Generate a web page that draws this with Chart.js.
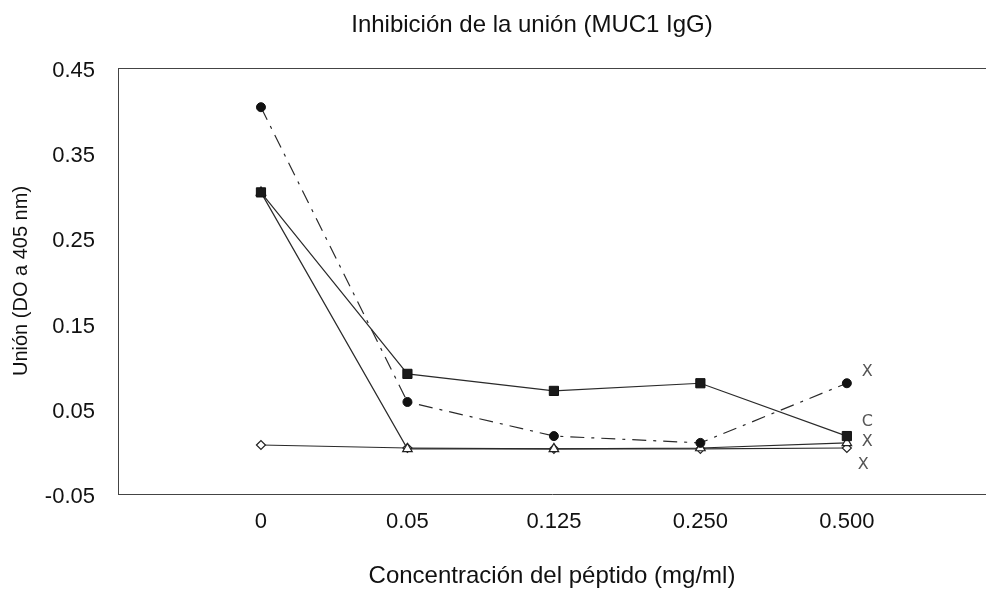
<!DOCTYPE html>
<html>
<head>
<meta charset="utf-8">
<script src="https://cdn.jsdelivr.net/npm/chart.js@4.4.1/dist/chart.umd.min.js"></script>
<style>
  html, body { margin: 0; padding: 0; background: #fff; }
  #wrap { width: 986px; height: 592px; position: relative; }
</style>
</head>
<body>
<div id="wrap"><canvas id="c" width="986" height="592"></canvas></div>
<script>
// Peptide concentrations (mg/ml) shown on the x axis
const concentrations = ['0', '0.05', '0.125', '0.250', '0.500'];
// Y axis tick values (OD at 405 nm)
const yTickValues = [-0.05, 0.05, 0.15, 0.25, 0.35, 0.45];

// Binding (OD 405 nm) for each series
const seriesSquare   = [0.304, 0.091, 0.071, 0.080, 0.018];
const seriesCircle   = [0.404, 0.058, 0.018, 0.010, 0.080];
const seriesTriangle = [0.304, 0.003, 0.003, 0.004, 0.010];
const seriesDiamond  = [0.0075, 0.004, 0.003, 0.003, 0.004];

// Letters printed after the last point of each series
const endLabels = ['C', 'X', 'X', 'X'];

const ink = '#2a2a2a';
const FONT = '"Liberation Sans", Arial, sans-serif';
const toPoints = arr => arr.map((v, i) => ({ x: i, y: v }));

// Title, top border of the frame and the series end letters
const decorations = {
  id: 'decorations',
  afterDraw(chart) {
    const { ctx, chartArea } = chart;
    ctx.save();
    ctx.fillStyle = '#111';
    ctx.font = '24px ' + FONT;
    ctx.textAlign = 'center';
    ctx.textBaseline = 'middle';
    ctx.fillText('Inhibición de la unión (MUC1 IgG)', 532, 25);
    ctx.strokeStyle = '#444';
    ctx.lineWidth = 1;
    ctx.beginPath();
    ctx.moveTo(chartArea.left, chartArea.top + 0.5);
    ctx.lineTo(chartArea.right, chartArea.top + 0.5);
    ctx.stroke();
    const offsets = [[15, -14], [15, -11], [15, -1], [11, 17]];
    ctx.font = '16px "DejaVu Sans", sans-serif';
    ctx.fillStyle = '#555';
    ctx.textAlign = 'left';
    chart.data.datasets.forEach((ds, i) => {
      const meta = chart.getDatasetMeta(i);
      const last = meta.data[meta.data.length - 1];
      ctx.fillText(endLabels[i], last.x + offsets[i][0], last.y + offsets[i][1]);
    });
    ctx.restore();
  }
};

new Chart(document.getElementById('c'), {
  type: 'line',
  data: {
    datasets: [
      {
        label: 'C', data: toPoints(seriesSquare),
        borderColor: ink, borderWidth: 1.2,
        pointStyle: 'rect', pointRadius: 6.5, pointBorderColor: '#111', pointBorderWidth: 1,
        pointBackgroundColor: '#1a1a1a', tension: 0
      },
      {
        label: 'X1', data: toPoints(seriesCircle),
        borderColor: ink, borderWidth: 1.2, borderDash: [14, 7, 3, 7],
        pointStyle: 'circle', pointRadius: 4.5, pointBorderColor: '#111', pointBorderWidth: 1,
        pointBackgroundColor: '#111', tension: 0
      },
      {
        label: 'X2', data: toPoints(seriesTriangle),
        borderColor: ink, borderWidth: 1.2,
        pointStyle: 'triangle', pointRadius: 5.5, pointBorderColor: '#222', pointBorderWidth: 1.2,
        pointBackgroundColor: '#fff', tension: 0
      },
      {
        label: 'X3', data: toPoints(seriesDiamond),
        borderColor: ink, borderWidth: 1.2,
        pointStyle: 'rectRot', pointRadius: 4.5, pointBorderColor: '#222', pointBorderWidth: 1.2,
        pointBackgroundColor: '#fff', tension: 0
      }
    ]
  },
  options: {
    responsive: false,
    animation: false,
    events: [],
    layout: { autoPadding: false, padding: { top: 68, right: 0, left: 0, bottom: 0 } },
    plugins: { legend: { display: false }, title: { display: false }, tooltip: { enabled: false } },
    scales: {
      x: {
        type: 'linear', min: -0.976, max: 4.95,
        afterBuildTicks: s => { s.ticks = concentrations.map((_, i) => ({ value: i })); },
        afterFit: s => { s.height = 98; s.paddingLeft = 0; s.paddingRight = 0; },
        grid: { display: false, drawTicks: false },
        border: { display: true, color: '#444', width: 1 },
        ticks: {
          padding: 15, color: '#111', maxRotation: 0, autoSkip: false,
          font: { family: FONT, size: 22 },
          callback: v => concentrations[v]
        },
        title: {
          display: true, text: 'Concentración del péptido (mg/ml)', color: '#111',
          font: { family: FONT, size: 24 },
          padding: { top: 0, bottom: 1 }
        }
      },
      y: {
        min: -0.05, max: 0.45,
        afterBuildTicks: s => { s.ticks = yTickValues.map(v => ({ value: v })); },
        afterFit: s => { s.width = 118; },
        grid: { display: false, drawTicks: false },
        border: { display: true, color: '#444', width: 1 },
        ticks: {
          padding: 23, color: '#111', labelOffset: 3,
          font: { family: FONT, size: 22 },
          callback: v => v.toFixed(2)
        },
        title: {
          display: true, text: 'Unión (DO a 405 nm)', color: '#111',
          font: { family: FONT, size: 20 },
          padding: { top: 9, bottom: 0 }
        }
      }
    }
  },
  plugins: [decorations]
});
</script>
</body>
</html>
